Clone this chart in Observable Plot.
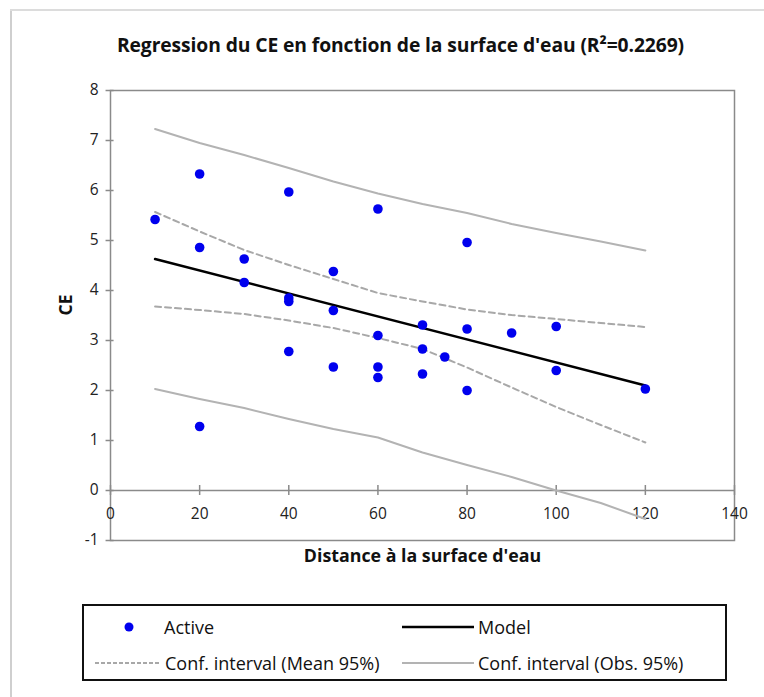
<!DOCTYPE html>
<html>
<head>
<meta charset="utf-8">
<script src="https://cdn.jsdelivr.net/npm/d3@7"></script>
<script src="https://cdn.jsdelivr.net/npm/@observablehq/plot@0.6"></script>
<style>
  body { margin: 0; background: #fff; font-family: "Open Sans", sans-serif; }
  #wrap { position: relative; width: 764px; height: 697px; overflow: hidden; background: #fff; }
  #wrap svg.plot { position: absolute; left: 0; top: 0; }
  .border-left { position: absolute; left: 10px; top: 9px; width: 2px; height: 700px; background: #cfcfcf; }
  .border-top { position: absolute; left: 10px; top: 9px; width: 760px; height: 2px; background: #dcdcdc; }
  #title { position: absolute; left: 0; top: 31px; width: 801px; text-align: center; font-weight: 700; font-size: 19.3px; color: #111; letter-spacing: -0.1px; }
  #legend { position: absolute; left: 82px; top: 604px; width: 645px; height: 77px; border: 2px solid #111; box-sizing: border-box; font-size: 18px; color: #111; }
  .item { position: absolute; display: flex; align-items: center; white-space: nowrap; }
  .item svg { display: block; margin-right: 2px; }
</style>
</head>
<body>
<div id="wrap">
  <div class="border-left"></div>
  <div class="border-top"></div>
  <div id="title">Regression du CE en fonction de la surface d'eau (R²=0.2269)</div>
  <div id="legend"></div>
</div>
<script>
// Observations (Distance, CE)
const obsX = [10, 20, 20, 20, 30, 30, 40, 40, 40, 40, 50, 50, 50, 60, 60, 60, 60, 70, 70, 70, 75, 80, 80, 80, 90, 100, 100, 120];
const obsY = [5.42, 6.33, 4.86, 1.28, 4.63, 4.16, 5.97, 3.85, 3.78, 2.78, 4.38, 3.60, 2.47, 5.63, 3.10, 2.47, 2.26, 3.31, 2.83, 2.33, 2.67, 4.96, 3.23, 2.00, 3.15, 3.28, 2.40, 2.03];

// Model line
const modelX = [10, 120];
const modelY = [4.63, 2.10];

// Confidence band abscissas
const bandX = [10, 20, 30, 40, 50, 60, 70, 80, 90, 100, 110, 120];
const meanUpper = [5.57, 5.18, 4.81, 4.51, 4.23, 3.95, 3.78, 3.62, 3.51, 3.43, 3.35, 3.27];
const meanLower = [3.68, 3.61, 3.53, 3.40, 3.25, 3.05, 2.83, 2.46, 2.06, 1.67, 1.31, 0.96];
const obsUpper = [7.23, 6.95, 6.71, 6.45, 6.18, 5.94, 5.73, 5.55, 5.33, 5.15, 4.98, 4.80];
const obsLower = [2.03, 1.83, 1.65, 1.43, 1.23, 1.06, 0.76, 0.51, 0.27, 0.00, -0.25, -0.57];

// Tick labels
const xTicks = [0, 20, 40, 60, 80, 100, 120, 140];
const yTicks = [-1, 0, 1, 2, 3, 4, 5, 6, 7, 8];

const points = obsX.map((x, i) => ({x, y: obsY[i]}));
const model = modelX.map((x, i) => ({x, y: modelY[i]}));
const band = (arr) => bandX.map((x, i) => ({x, y: arr[i]}));

const axisColor = "#8a8a8a";

const plot = Plot.plot({
  width: 764,
  height: 697,
  marginLeft: 110,
  marginRight: 30,
  marginTop: 90,
  marginBottom: 157,
  style: {background: "transparent", fontFamily: "Open Sans", fontSize: "15px", color: "#222"},
  x: {domain: [0, 140], axis: null},
  y: {domain: [-1, 8], axis: null},
  marks: [
    Plot.frame({stroke: axisColor, strokeWidth: 1.5}),
    Plot.ruleY([0], {stroke: axisColor, strokeWidth: 1.5}),
    Plot.ruleX(xTicks, {x: d => d, y1: -0.1, y2: 0.1, stroke: axisColor, strokeWidth: 1.5}),
    Plot.ruleY(yTicks, {y: d => d, x1: -1, x2: 0.8, stroke: axisColor, strokeWidth: 1.5}),
    Plot.text(xTicks, {x: d => d, y: 0, dy: 24, text: d => String(d), fill: "#222", fontSize: 15.5}),
    Plot.text(yTicks, {x: 0, y: d => d, dx: -12, text: d => String(d), textAnchor: "end", fill: "#222", fontSize: 15.5}),
    Plot.line(band(obsUpper), {x: "x", y: "y", stroke: "#b3b3b3", strokeWidth: 2}),
    Plot.line(band(obsLower), {x: "x", y: "y", stroke: "#b3b3b3", strokeWidth: 2}),
    Plot.line(band(meanUpper), {x: "x", y: "y", stroke: "#a8a8a8", strokeWidth: 2, strokeDasharray: "6,4"}),
    Plot.line(band(meanLower), {x: "x", y: "y", stroke: "#a8a8a8", strokeWidth: 2, strokeDasharray: "6,4"}),
    Plot.line(model, {x: "x", y: "y", stroke: "#000", strokeWidth: 2.5}),
    Plot.dot(points, {x: "x", y: "y", r: 4.8, fill: "#0000ee", stroke: "none"}),
    Plot.text(["CE"], {frameAnchor: "left", dx: -44, rotate: -90, text: d => d, fontWeight: "bold", fontSize: 17.5, fill: "#111"}),
    Plot.text(["Distance à la surface d'eau"], {frameAnchor: "bottom", dy: 21, text: d => d, fontWeight: "bold", fontSize: 17.8, fill: "#111"})
  ]
});
plot.classList.add("plot");
document.getElementById("wrap").insertBefore(plot, document.getElementById("title"));

// Legend
const legendItems = [
  {label: "Active", kind: "dot", left: 36, top: 22, sw: 42},
  {label: "Model", kind: "model", left: 316, top: 22, sw: 76},
  {label: "Conf. interval (Mean 95%)", kind: "mean", left: 9, top: 58, sw: 70},
  {label: "Conf. interval (Obs. 95%)", kind: "obs", left: 316, top: 58, sw: 76}
];
const legend = document.getElementById("legend");
for (const it of legendItems) {
  const div = document.createElement("div");
  div.className = "item";
  div.style.left = it.left + "px";
  div.style.top = (it.top - 13) + "px";
  const ns = "http://www.w3.org/2000/svg";
  const s = document.createElementNS(ns, "svg");
  s.setAttribute("width", it.sw);
  s.setAttribute("height", 20);
  if (it.kind === "dot") {
    const c = document.createElementNS(ns, "circle");
    c.setAttribute("cx", 9); c.setAttribute("cy", 10); c.setAttribute("r", 4.5);
    c.setAttribute("fill", "#0000ee");
    s.appendChild(c);
  } else {
    const l = document.createElementNS(ns, "line");
    l.setAttribute("x1", 2); l.setAttribute("x2", it.sw - 2);
    l.setAttribute("y1", 10); l.setAttribute("y2", 10);
    if (it.kind === "model") { l.setAttribute("stroke", "#000"); l.setAttribute("stroke-width", 2.5); }
    if (it.kind === "mean") { l.setAttribute("stroke", "#a8a8a8"); l.setAttribute("stroke-width", 2); l.setAttribute("stroke-dasharray", "4,2"); }
    if (it.kind === "obs") { l.setAttribute("stroke", "#b3b3b3"); l.setAttribute("stroke-width", 2); }
    s.appendChild(l);
  }
  div.appendChild(s);
  const span = document.createElement("span");
  span.textContent = it.label;
  div.appendChild(span);
  legend.appendChild(div);
}
</script>
</body>
</html>
